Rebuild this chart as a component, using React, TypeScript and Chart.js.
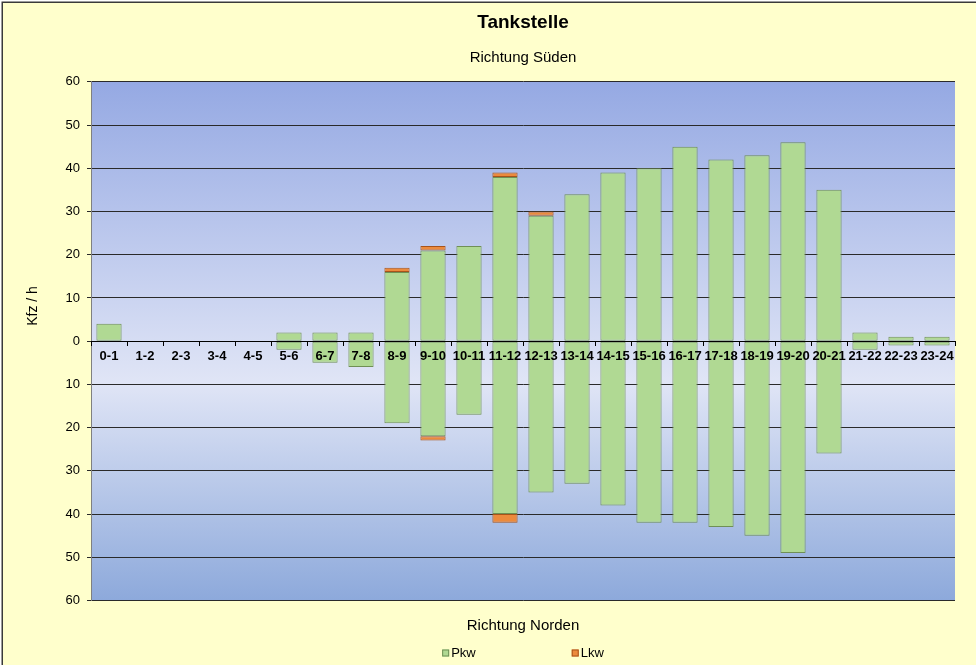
import React, { useEffect, useRef } from 'react';
import { Chart, registerables } from 'chart.js';

Chart.register(...registerables);

const hours = ['0-1', '1-2', '2-3', '3-4', '4-5', '5-6', '6-7', '7-8', '8-9', '9-10', '10-11', '11-12', '12-13', '13-14', '14-15', '15-16', '16-17', '17-18', '18-19', '19-20', '20-21', '21-22', '22-23', '23-24'];
// Richtung Süden (nach oben)
const pkwSued = [4, 0, 0, 0, 0, 2, 2, 2, 16, 21, 22, 38, 29, 34, 39, 40, 45, 42, 43, 46, 35, 2, 1, 1];
const lkwSued = [0, 0, 0, 0, 0, 0, 0, 0, 1, 1, 0, 1, 1, 0, 0, 0, 0, 0, 0, 0, 0, 0, 0, 0];
// Richtung Norden (nach unten)
const pkwNord = [0, 0, 0, 0, 0, 2, 5, 6, 19, 22, 17, 40, 35, 33, 38, 42, 42, 43, 45, 49, 26, 2, 1, 1];
const lkwNord = [0, 0, 0, 0, 0, 0, 0, 0, 0, 1, 0, 2, 0, 0, 0, 0, 0, 0, 0, 0, 0, 0, 0, 0];

const seriesNames = ['Pkw', 'Lkw'];
const FONT = '"Liberation Sans", Arial, sans-serif';
const GREEN = '#B0D993';
const GREEN_BORDER = '#6F8F55';
const ORANGE = '#EC8A3C';
const ORANGE_BORDER = '#A8531A';

export default function App() {
  const ref = useRef<HTMLCanvasElement>(null);

  useEffect(() => {
    if (!ref.current) return;
    Chart.defaults.font.family = FONT;

    const decor = {
      id: 'decor',
      beforeDraw(chart: any) {
        const { ctx, width, height, chartArea: a } = chart;
        ctx.save();
        ctx.fillStyle = '#ffffff';
        ctx.fillRect(0, 0, width, height);
        ctx.fillStyle = '#FFFFCC';
        ctx.fillRect(2, 2, width, height);
        ctx.strokeStyle = '#3a3a3a';
        ctx.lineWidth = 1.5;
        ctx.strokeRect(2.25, 2.25, width + 10, height + 10);
        const g = ctx.createLinearGradient(0, a.top, 0, a.bottom);
        g.addColorStop(0, '#95A9E3');
        g.addColorStop(0.58, '#E0E5F6');
        g.addColorStop(1, '#8DA9DB');
        ctx.fillStyle = g;
        ctx.fillRect(a.left, a.top, a.right - a.left, a.bottom - a.top);
        ctx.restore();
      },
      afterDraw(chart: any) {
        const { ctx, chartArea: a } = chart;
        ctx.save();
        // y axis title
        ctx.translate(33, 306);
        ctx.rotate(-Math.PI / 2);
        ctx.font = '14px ' + FONT;
        ctx.fillStyle = '#000';
        ctx.textAlign = 'center';
        ctx.textBaseline = 'middle';
        ctx.fillText('Kfz / h', 0, 0);
        ctx.restore();

        // legend
        ctx.save();
        ctx.font = '13px ' + FONT;
        ctx.textBaseline = 'middle';
        ctx.textAlign = 'left';
        const colors = [GREEN, ORANGE];
        const borders = [GREEN_BORDER, ORANGE_BORDER];
        const box = 7;
        const gap = 2;
        const between = 96;
        const widths = seriesNames.map((n) => box + gap + ctx.measureText(n).width);
        const total = widths.reduce((s, w) => s + w, 0) + between * (seriesNames.length - 1);
        let x = (a.left + a.right) / 2 - total / 2;
        const y = 653;
        seriesNames.forEach((n, i) => {
          ctx.fillStyle = colors[i];
          ctx.fillRect(x, y - box / 2, box, box);
          ctx.strokeStyle = borders[i];
          ctx.lineWidth = 1;
          ctx.strokeRect(x + 0.5, y - box / 2 + 0.5, box - 1, box - 1);
          ctx.fillStyle = '#000';
          ctx.fillText(n, x + box + gap, y + 0.5);
          x += widths[i] + between;
        });
        ctx.restore();
      },
    };

    const nz = (v: number, sign: number) => (v === 0 ? null : sign * v);

    const chart = new Chart(ref.current, {
      type: 'bar',
      data: {
        labels: hours,
        datasets: [
          { label: 'Pkw', data: pkwSued.map((v) => nz(v, 1)), backgroundColor: GREEN, borderColor: GREEN_BORDER },
          { label: 'Lkw', data: lkwSued.map((v) => nz(v, 1)), backgroundColor: ORANGE, borderColor: ORANGE_BORDER },
          { label: 'Pkw Nord', data: pkwNord.map((v) => nz(v, -1)), backgroundColor: GREEN, borderColor: GREEN_BORDER },
          { label: 'Lkw Nord', data: lkwNord.map((v) => nz(v, -1)), backgroundColor: ORANGE, borderColor: ORANGE_BORDER },
        ] as any,
      },
      options: {
        animation: false,
        responsive: false,
        events: [],
        layout: { padding: { left: 0, right: 21, top: 0, bottom: 0 } },
        datasets: {
          bar: { categoryPercentage: 1, barPercentage: 0.7, borderWidth: 1, borderSkipped: false },
        } as any,
        plugins: {
          title: {
            display: true,
            text: 'Tankstelle',
            fullSize: false,
            color: '#000',
            font: { size: 19, weight: 'bold' },
            padding: { top: 11, bottom: 0 },
          },
          subtitle: {
            display: true,
            text: 'Richtung Süden',
            fullSize: false,
            color: '#000',
            font: { size: 15 },
            padding: { top: 15, bottom: 15 },
          },
          legend: { display: false },
          tooltip: { enabled: false },
        } as any,
        scales: {
          x: {
            type: 'category',
            stacked: true,
            position: { y: 0 } as any,
            grid: { display: true, drawOnChartArea: false, drawTicks: true, tickLength: 4, color: '#000', offset: true, z: 1 },
            border: { display: true, color: '#000', width: 1, z: 1 },
            ticks: { autoSkip: false, maxRotation: 0, minRotation: 0, padding: 3, color: '#000', font: { size: 13, weight: 'bold' }, z: 2 },
          },
          x2: {
            type: 'category',
            position: 'bottom',
            grid: { display: false, drawTicks: false },
            border: { display: false },
            ticks: { display: false },
            title: { display: true, text: 'Richtung Norden', color: '#000', font: { size: 15 }, padding: { top: 16.5, bottom: 30 } },
          },
          y: {
            stacked: true,
            min: -60,
            max: 60,
            ticks: { stepSize: 10, callback: (v: any) => String(Math.abs(Number(v))), color: '#000', font: { size: 13 }, padding: 7 },
            grid: { color: '#2a2a2a', tickLength: 4, drawTicks: true },
            border: { color: '#808080' },
            afterFit: (s: any) => {
              s.width = 91;
            },
          },
        } as any,
      },
      plugins: [decor],
    });

    return () => chart.destroy();
  }, []);

  return (
    <canvas
      ref={ref}
      width={976}
      height={665}
      style={{ position: 'absolute', left: 0, top: 0, width: 976, height: 665, display: 'block' }}
    />
  );
}
